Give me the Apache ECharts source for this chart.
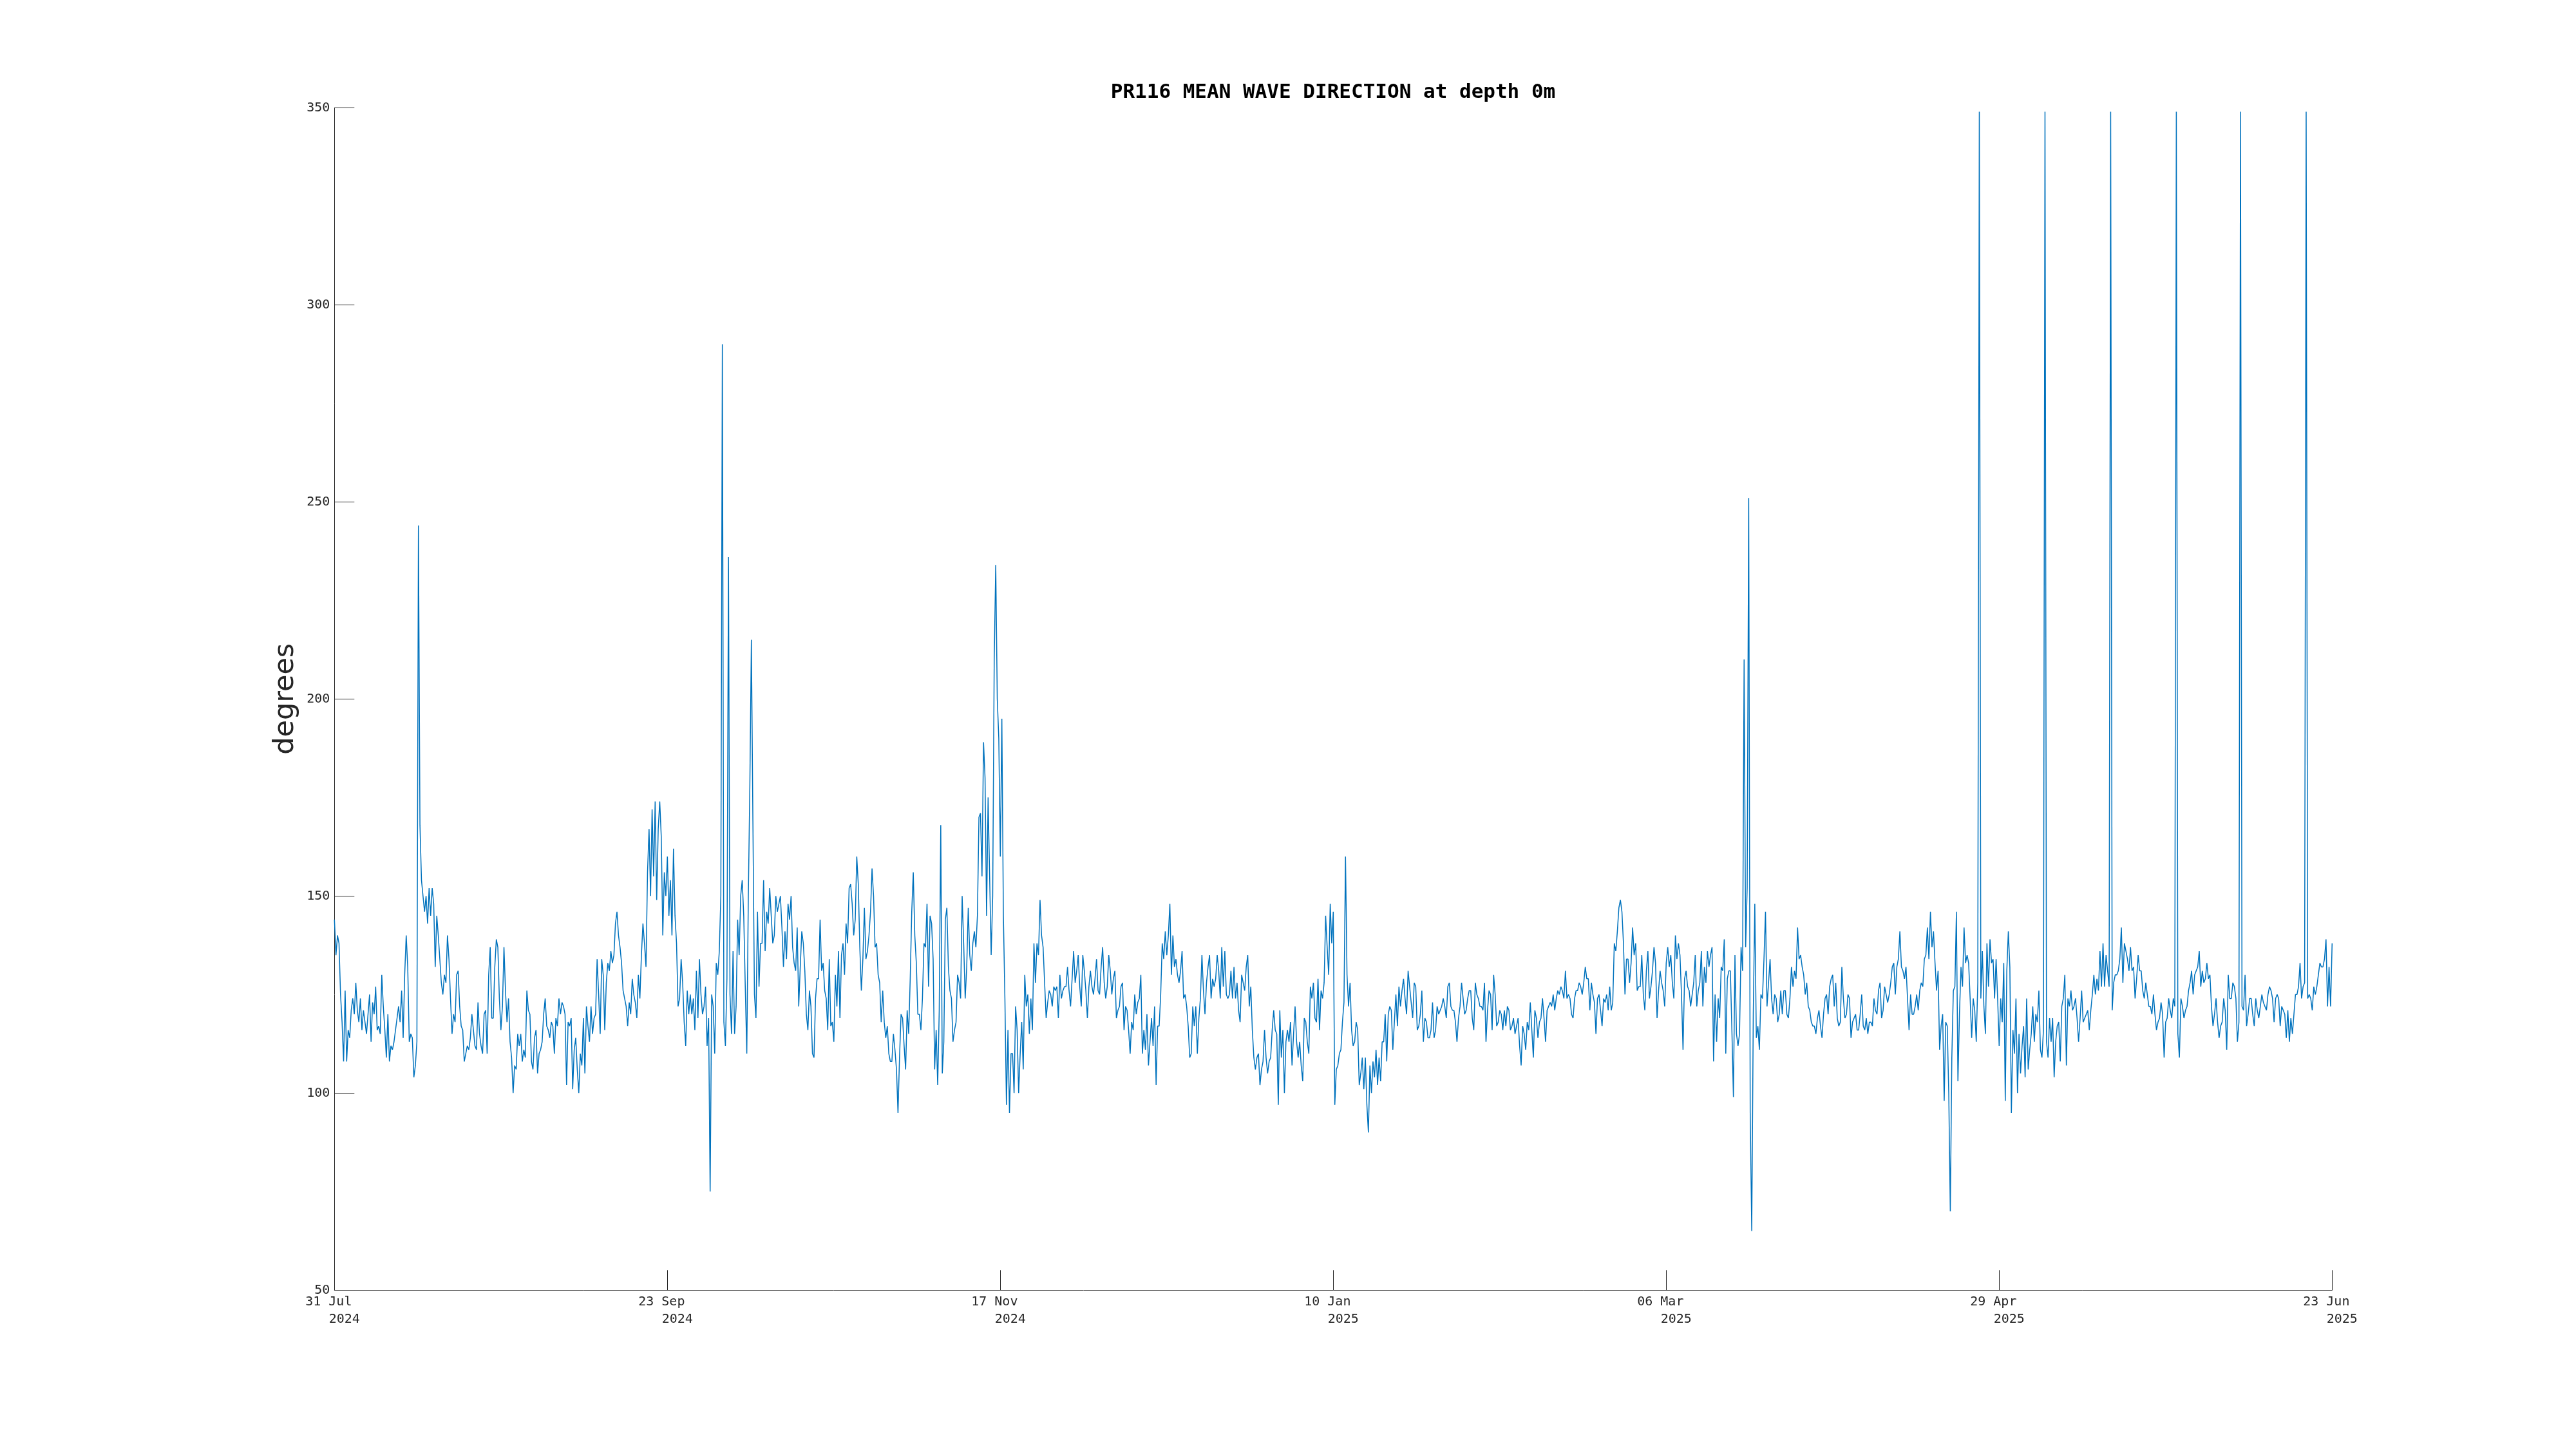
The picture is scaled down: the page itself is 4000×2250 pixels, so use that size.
<!DOCTYPE html>
<html>
<head>
<meta charset="utf-8">
<script src="https://cdn.jsdelivr.net/npm/echarts@6/dist/echarts.min.js"></script>
<style>
html,body{margin:0;padding:0;background:#ffffff;}
#chart{width:4000px;height:2250px;}
</style>
</head>
<body>
<div id="chart"></div>
<script>
// Time axis: days since 31 Jul 2024 00:00, one value every 6 hours
const titleText = 'PR116 MEAN WAVE DIRECTION at depth 0m';
const yAxisName = 'degrees';
const stepDays = 0.25;
const tickDayMonth = ['31 Jul', '23 Sep', '17 Nov', '10 Jan', '06 Mar', '29 Apr', '23 Jun'];
const tickYear = ['2024', '2024', '2024', '2025', '2025', '2025', '2025'];
const tickStepDays = 54.5;
const yTicks = [50, 100, 150, 200, 250, 300, 350];

// 31 Jul - 23 Sep 2024 (days 0-54)
const seg1 = [
144,135,140,138, 125,118,108,126, 108,116,114,121, 124,120,128,121, 118,124,116,121,
118,115,120,125, 113,123,120,127, 116,117,115,130, 122,116,109,120, 108,112,111,113,
116,119,122,118, 126,114,130,140, 132,113,115,114, 104,107,113,244, 168,154,150,146,
150,143,152,145, 152,148,132,145, 140,134,128,125, 130,128,140,134, 124,115,120,118,
130,131,122,117, 116,108,110,112, 111,114,120,116, 112,111,123,115, 112,110,120,121,
110,130,137,119, 119,132,139,137, 124,116,122,137, 126,118,124,113, 109,100,107,106,
115,112,115,108, 111,109,126,121, 120,108,106,114, 116,105,110,111, 113,120,124,117,
116,114,118,117, 110,119,117,124, 120,123,122,120, 102,118,117,119, 101,111,114,106,
100,110,107,119, 105,122,117,113, 122,115,119,120, 134,125,115,134, 130,116,128,133,
131,136,133,135, 143,146,140,137, 133,126,124,122, 117,123,120,129, 125,123,119,130,
124,135,143,138, 132,156,167,150, 172,155,174,149, 167,174,165,140, 156,150,160,145
];
// days 55-109
const seg2 = [
154,140,162,145, 138,122,124,134, 128,118,112,126, 120,125,120,124, 116,131,119,134,
125,120,122,127, 112,119,75,125, 122,110,133,130, 136,150,290,118, 112,129,236,125,
115,136,115,122, 144,135,150,154, 145,127,110,150, 178,215,169,125, 119,146,127,138,
138,154,136,146, 143,152,145,138, 140,150,146,148, 150,142,132,141, 134,148,144,150,
137,133,131,142, 122,132,141,138, 131,120,116,126, 122,110,109,124, 129,129,144,131,
133,126,124,116, 134,117,118,113, 130,122,136,119, 135,138,130,143, 138,152,153,148,
140,144,160,153, 137,126,134,147, 134,136,140,146, 157,150,137,138, 130,128,118,126,
118,114,117,110, 108,108,115,111, 106,95,109,120, 119,112,106,121, 115,129,146,156,
140,133,120,120, 116,124,138,137, 148,127,145,143, 134,106,116,102, 121,168,105,113,
144,147,132,126, 124,113,116,118, 130,128,124,150, 138,124,132,147, 135,131,138,141,
137,145,170,171, 155,189,180,145, 175,155,135,150, 210,234,200,190, 160,195,145,124
];
// days 110-164
const seg3 = [
97,116,95,110, 110,100,122,116, 100,110,118,106, 130,122,125,115, 124,116,138,128,
138,135,149,140, 137,128,119,123, 126,125,122,127, 126,127,119,130, 124,126,127,127,
132,126,122,129, 136,128,131,135, 127,122,135,131, 126,119,127,131, 127,125,129,134,
126,125,132,137, 128,124,127,135, 131,125,129,131, 119,121,122,127, 128,116,122,121,
116,110,118,116, 125,120,123,124, 130,110,116,111, 120,107,113,119, 112,122,102,117,
117,125,138,134, 141,135,140,148, 130,140,132,134, 130,128,131,136, 124,125,122,117,
109,110,122,117, 122,110,119,124, 135,126,120,128, 132,135,124,129, 127,129,135,131,
124,137,127,136, 125,124,125,131, 124,132,124,128, 121,118,130,128, 126,132,135,122,
127,116,109,106, 109,110,102,106, 108,116,109,105, 108,109,116,121, 116,115,97,121,
109,116,100,113, 116,113,118,107, 115,122,113,109, 113,107,103,119, 118,113,110,127,
124,128,119,118, 129,116,126,124, 128,145,137,130, 148,138,146,97, 106,107,110,111
];
// days 165-219
const seg4 = [
118,123,160,130, 122,128,116,112, 113,118,116,102, 105,109,101,109, 97,90,107,100,
108,104,111,102, 109,103,113,113, 120,108,120,122, 121,111,118,125, 117,127,122,126,
129,124,120,131, 127,123,119,128, 127,116,117,120, 126,113,119,118, 114,114,116,123,
114,116,122,120, 121,122,124,122, 119,127,128,122, 121,121,118,113, 119,122,128,124,
120,121,124,126, 126,119,116,128, 125,124,122,122, 121,128,113,121, 126,125,116,130,
125,117,118,121, 120,116,121,117, 122,121,116,117, 119,115,117,119, 112,107,117,115,
111,118,116,123, 116,109,121,119, 114,118,119,124, 119,113,121,122, 123,122,125,121,
124,126,125,127, 126,124,131,124, 125,124,120,119, 124,126,126,128, 127,125,128,132,
129,129,121,128, 125,123,115,124, 125,121,117,124, 123,125,121,127, 121,123,138,136,
141,147,149,146, 138,125,134,134, 128,133,142,135, 138,126,127,127, 135,125,121,131,
136,124,127,131, 137,133,119,126, 131,128,126,122, 133,137,132,135, 128,124,140,134
];
// days 220-274
const seg5 = [
138,135,125,111, 129,131,127,126, 122,125,128,135, 122,126,128,136, 122,132,128,136,
132,135,137,108, 125,113,124,119, 132,131,139,110, 129,131,131,116, 99,135,115,112,
115,137,131,210, 137,152,251,95, 65,120,148,114, 117,111,125,124, 134,146,122,128,
134,124,120,125, 124,118,120,126, 120,126,126,120, 119,124,132,127, 131,129,142,134,
135,132,130,125, 128,122,121,118, 117,117,115,119, 121,117,114,120, 124,125,120,127,
129,130,122,128, 119,117,118,132, 124,119,120,125, 124,114,118,119, 120,116,116,120,
125,117,116,119, 115,118,118,117, 124,121,120,126, 128,119,121,127, 125,123,125,128,
132,133,125,132, 134,141,132,131, 129,132,124,116, 125,120,120,122, 125,121,126,128,
127,134,135,142, 134,146,137,141, 133,126,131,111, 117,120,98,118, 117,100,70,109,
126,127,146,103, 120,132,127,142, 133,135,133,124, 114,124,121,113, 128,349,124,136,
122,115,138,127, 139,133,134,124, 134,124,112,124, 118,133,98,131, 141,132,95,116
];
// days 275-327
const seg6 = [
110,124,100,115, 105,112,117,104, 124,106,111,115, 122,113,120,118, 126,111,109,116,
349,113,109,119, 113,119,104,113, 117,118,108,122, 124,130,107,124, 122,126,121,122,
124,119,113,119, 126,118,119,120, 121,116,121,125, 130,125,129,126, 136,127,138,127,
135,131,127,349, 121,128,130,130, 131,134,142,128, 138,136,134,131, 137,131,132,124,
129,135,131,131, 126,124,128,125, 122,122,120,125, 120,116,118,119, 123,120,109,118,
119,124,121,119, 124,122,349,115, 109,124,122,119, 121,122,126,128, 131,125,130,131,
132,136,127,131, 128,129,133,129, 130,122,117,120, 124,118,114,117, 118,124,121,111,
130,124,124,128, 127,124,113,118, 349,122,121,130, 117,120,124,124, 120,117,124,121,
119,122,125,123, 122,121,125,127, 126,124,118,124, 125,124,117,122, 121,120,114,121,
113,119,115,120, 125,125,127,133, 124,127,128,349, 124,125,124,121, 127,125,127,130,
133,132,132,134, 139,122,132,122, 138
];

const allValues = [].concat(seg1, seg2, seg3, seg4, seg5, seg6);
const seriesData = allValues.map((v, i) => [i * stepDays, v]);

const axisColor = '#262626';
const chart = echarts.init(document.getElementById('chart'), null, {renderer: 'canvas', width: 4000, height: 2250});
chart.setOption({
  animation: false,
  backgroundColor: '#ffffff',
  title: {
    text: titleText,
    left: 2070,
    top: 128,
    textAlign: 'center',
    padding: 0,
    textStyle: {fontFamily: 'DejaVu Sans Mono', fontWeight: 'bold', fontSize: 31, color: '#000000'}
  },
  grid: {left: 519.3, right: 378.7, top: 167.3, bottom: 246.7, containLabel: false},
  xAxis: {
    type: 'value',
    min: 0,
    max: tickStepDays * (tickDayMonth.length - 1),
    interval: tickStepDays,
    splitLine: {show: false},
    axisLine: {show: true, onZero: false, lineStyle: {color: axisColor, width: 1}},
    axisTick: {show: true, inside: true, length: 31, lineStyle: {color: axisColor, width: 1}},
    axisLabel: {
      show: true, showMinLabel: true, showMaxLabel: true,
      margin: 5,
      fontFamily: 'DejaVu Sans Mono', fontSize: 20, color: axisColor, lineHeight: 27,
      formatter: function (v) {
        const i = Math.round(v / tickStepDays);
        return '{a|' + tickDayMonth[i] + '}\n{b|' + tickYear[i] + '}';
      },
      rich: {
        a: {fontFamily: 'DejaVu Sans Mono', fontSize: 20, color: axisColor, lineHeight: 27, padding: [0, 18, 0, 0]},
        b: {fontFamily: 'DejaVu Sans Mono', fontSize: 20, color: axisColor, lineHeight: 27, padding: [0, 0, 0, 31]}
      }
    }
  },
  yAxis: {
    type: 'value',
    min: yTicks[0],
    max: yTicks[yTicks.length - 1],
    interval: yTicks[1] - yTicks[0],
    name: yAxisName,
    nameLocation: 'middle',
    nameGap: 36,
    nameTextStyle: {fontFamily: 'DejaVu Sans', fontSize: 43, color: axisColor},
    splitLine: {show: false},
    axisLine: {show: true, lineStyle: {color: axisColor, width: 1}},
    axisTick: {show: true, inside: true, length: 31, lineStyle: {color: axisColor, width: 1}},
    axisLabel: {margin: 7, fontFamily: 'DejaVu Sans Mono', fontSize: 20, color: axisColor}
  },
  series: [{
    type: 'line',
    data: seriesData,
    showSymbol: false,
    symbol: 'none',
    lineStyle: {color: '#0072BD', width: 1.5},
    itemStyle: {color: '#0072BD'},
    sampling: null,
    clip: true
  }]
});
</script>
</body>
</html>
